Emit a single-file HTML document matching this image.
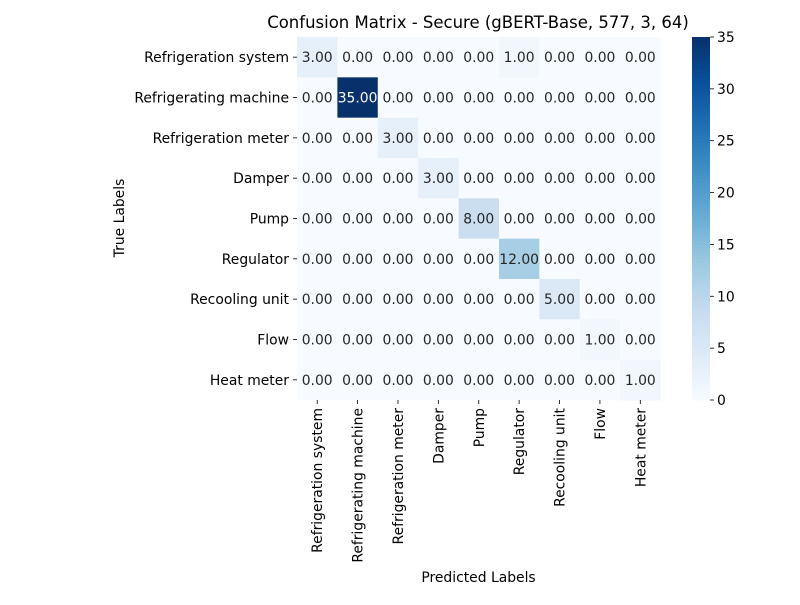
<!DOCTYPE html>
<html><head><meta charset="utf-8"><style>
body{margin:0;background:#fff}
svg text{font-family:"DejaVu Sans","Liberation Sans",sans-serif;font-size:13.9px;fill:#000}
</style></head><body>
<svg id="chart" width="800" height="600" xmlns="http://www.w3.org/2000/svg"></svg>
<script>
const labels=["Refrigeration system","Refrigerating machine","Refrigeration meter","Damper","Pump","Regulator","Recooling unit","Flow","Heat meter"];
const matrix=[
[3,0,0,0,0,1,0,0,0],
[0,35,0,0,0,0,0,0,0],
[0,0,3,0,0,0,0,0,0],
[0,0,0,3,0,0,0,0,0],
[0,0,0,0,8,0,0,0,0],
[0,0,0,0,0,12,0,0,0],
[0,0,0,0,0,0,5,0,0],
[0,0,0,0,0,0,0,1,0],
[0,0,0,0,0,0,0,0,1]];
const cbTicks=[0,5,10,15,20,25,30,35];
const vmin=0,vmax=35;
const NS="http://www.w3.org/2000/svg";
const svg=document.getElementById('chart');
const X0=297,Y0=37,W=363.5,H=363,n=labels.length,cw=W/n,ch=H/n;
const stops=["#f7fbff","#deebf7","#c6dbef","#9ecae1","#6baed6","#4292c6","#2171b5","#08519c","#08306b"];
function hex(h){return [1,3,5].map(i=>parseInt(h.substr(i,2),16));}
function color(v){let t=Math.max(0,Math.min(1,(v-vmin)/(vmax-vmin)))*(stops.length-1);let i=Math.min(Math.floor(t),stops.length-2),f=t-i;let a=hex(stops[i]),b=hex(stops[i+1]);return `rgb(${a.map((c,k)=>Math.round(c+(b[k]-c)*f)).join(',')})`;}
function el(tag,attrs,text){const e=document.createElementNS(NS,tag);for(const k in attrs)e.setAttribute(k,attrs[k]);if(text!==undefined)e.textContent=text;svg.appendChild(e);return e;}
const xS=j=>X0+j*cw, yS=i=>Y0+i*ch;
matrix.forEach((row,i)=>row.forEach((v,j)=>{
 const r=el('rect',{x:xS(j),y:yS(i),width:cw+0.5,height:ch+0.5,fill:color(v)});
 
 
 const t=el('text',{x:xS(j)+cw/2,y:yS(i)+ch/2+5,'text-anchor':'middle',style:'fill:'+(v>vmax*0.6?'#fff':'#262626')},v.toFixed(2));
 
 
}));
labels.forEach((l,i)=>{
 el('line',{x1:X0-4,x2:X0,y1:yS(i)+ch/2,y2:yS(i)+ch/2,stroke:'#000','stroke-width':0.8});
 const t=el('text',{x:X0-8,y:yS(i)+ch/2+5,'text-anchor':'end'},l);
 
 
 const cx=xS(i)+cw/2;
 el('line',{x1:cx,x2:cx,y1:Y0+H,y2:Y0+H+4,stroke:'#000','stroke-width':0.8});
 const t2=el('text',{x:cx+5,y:Y0+H+8,'text-anchor':'end',transform:`rotate(-90 ${cx+5} ${Y0+H+8})`},l);
 
 
});
const CX=692,CW=18;
const cbY=v=>Y0+H-(v-vmin)/(vmax-vmin)*H;
for(let k=0;k<100;k++){const v0=vmin+(vmax-vmin)*k/100,v1=vmin+(vmax-vmin)*(k+1)/100;
 const r=el('rect',{x:CX,y:cbY(v1),width:CW,height:cbY(v0)-cbY(v1)+0.6,fill:color((v0+v1)/2)});
 
 }
cbTicks.forEach(v=>{el('line',{x1:CX+CW,x2:CX+CW+4,y1:cbY(v),y2:cbY(v),stroke:'#000','stroke-width':0.8});
 const t=el('text',{x:CX+CW+7,y:cbY(v)+5},String(v));
 
 });
let t=el('text',{x:478,y:28,'text-anchor':'middle',style:'font-size:16.5px'},'Confusion Matrix - Secure (gBERT-Base, 577, 3, 64)');

t=el('text',{x:478.5,y:582,'text-anchor':'middle'},'Predicted Labels');

t=el('text',{x:124,y:218,'text-anchor':'middle',transform:'rotate(-90 124 218)'},'True Labels');

</script>
</body></html>
